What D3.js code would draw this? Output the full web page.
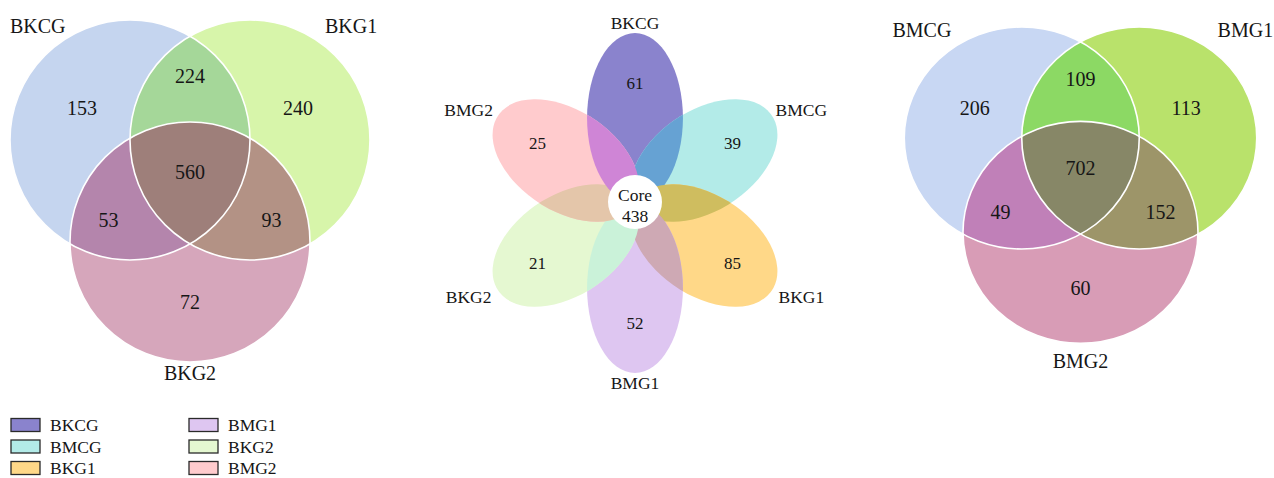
<!DOCTYPE html>
<html lang="en">
<head>
<meta charset="utf-8">
<title>Venn and flower diagrams</title>
<script src="https://d3js.org/d3.v7.min.js"></script>
<style>
  body { margin: 0; background: #fff; }
  text { font-family: "Liberation Serif", "Times New Roman", serif; fill: #161616; }
</style>
</head>
<body>
<script>
// ---- data ----
// venn region order: A only, B only, C only, A&B, A&C, B&C, A&B&C
var leftSets = ["BKCG", "BKG1", "BKG2"];
var leftCounts = [153, 240, 72, 224, 53, 93, 560];
var rightSets = ["BMCG", "BMG1", "BMG2"];
var rightCounts = [206, 113, 60, 109, 49, 152, 702];

var petalSets = ["BKCG", "BMCG", "BKG1", "BMG1", "BKG2", "BMG2"];
var petalCounts = [61, 39, 85, 52, 21, 25];
var coreLabel = "Core";
var coreCount = 438;

var legendCol1 = ["BKCG", "BMCG", "BKG1"];
var legendCol2 = ["BMG1", "BKG2", "BMG2"];

// ---- styles ----
var leftColors = ["#c5d5ef", "#d7f5aa", "#d6a6bb", "#a5d799", "#b485ac", "#b39285", "#9e7f7a"];
var rightColors = ["#c8d7f3", "#b9e26b", "#d89cb6", "#8cd964", "#c080b8", "#9d9569", "#878767"];
var petalColors = {BKCG: "#8a83cd", BMCG: "#b3ebe8", BKG1: "#ffd888", BMG1: "#dec6f1", BKG2: "#e5f8d1", BMG2: "#ffcbcd"};
// overlap of petal i with petal i+1
var petalOverlap = ["#66a2d3", "#cfbd5f", "#cea9b4", "#caf2d9", "#e4c6aa", "#cf85d6"];

var W = 1274, H = 478;
var svg = d3.select("body").append("svg").attr("width", W).attr("height", H);
var defs = svg.append("defs");

// unit layout of a 3-set venn (radius 1)
var unitCenters = [[-0.5, 0], [0.5, 0], [0, 0.85]];
var regionPos = [[-0.9, -0.27], [0.9, -0.27], [0, 1.35], [0, -0.53], [-0.68, 0.67], [0.68, 0.67], [0, 0.27]];

function venn(id, sets, counts, colors, cfg) {
  var x = d3.scaleLinear().domain([-1, 1]).range([cfg.cx - cfg.rx, cfg.cx + cfg.rx]);
  var y = d3.scaleLinear().domain([-1, 1]).range([cfg.cy - cfg.ry, cfg.cy + cfg.ry]);
  var g = svg.append("g");

  function ell(sel, i) {
    return sel.append("ellipse")
      .attr("cx", x(unitCenters[i][0])).attr("cy", y(unitCenters[i][1]))
      .attr("rx", cfg.rx).attr("ry", cfg.ry);
  }
  sets.forEach(function(s, i) {
    ell(defs.append("clipPath").attr("id", id + "c" + i), i);
  });

  // single sets
  sets.forEach(function(s, i) { ell(g, i).attr("fill", colors[i]); });
  // pairwise
  ell(g, 1).attr("fill", colors[3]).attr("clip-path", "url(#" + id + "c0)");
  ell(g, 2).attr("fill", colors[4]).attr("clip-path", "url(#" + id + "c0)");
  ell(g, 2).attr("fill", colors[5]).attr("clip-path", "url(#" + id + "c1)");
  // triple
  var gt = g.append("g").attr("clip-path", "url(#" + id + "c1)");
  ell(gt, 2).attr("fill", colors[6]).attr("clip-path", "url(#" + id + "c0)");
  // outlines
  sets.forEach(function(s, i) {
    ell(g, i).attr("fill", "none").attr("stroke", "#fff").attr("stroke-width", 1.6);
  });

  g.selectAll("text.cnt").data(counts).enter().append("text")
    .attr("class", "cnt")
    .attr("x", function(d, i) { return x(regionPos[i][0]); })
    .attr("y", function(d, i) { return y(regionPos[i][1]); })
    .attr("dy", "0.35em")
    .attr("text-anchor", "middle")
    .style("font-size", "20px")
    .text(function(d) { return d; });

  var lab = [
    {t: sets[0], u: cfg.lu[0], v: cfg.lv, a: "start"},
    {t: sets[1], u: cfg.lu[1], v: cfg.lv, a: "end"},
    {t: sets[2], u: 0, v: cfg.bv, a: "middle"}
  ];
  g.selectAll("text.lab").data(lab).enter().append("text")
    .attr("class", "lab")
    .attr("x", function(d) { return x(d.u); })
    .attr("y", function(d) { return y(d.v); })
    .attr("text-anchor", function(d) { return d.a; })
    .style("font-size", "20px")
    .text(function(d) { return d.t; });
}

venn("L", leftSets, leftCounts, leftColors, {cx: 190, cy: 140, rx: 120, ry: 120, lu: [-1.5, 1.56], lv: -0.89, bv: 2.0});
venn("R", rightSets, rightCounts, rightColors, {cx: 1080.5, cy: 138, rx: 117.5, ry: 111, lu: [-1.6, 1.64], lv: -0.91, bv: 2.07});

// ---- flower ----
var fcx = 635, fcy = 203, sx = 0.94;
var angle = d3.scaleLinear().domain([0, petalSets.length]).range([-90, 270]);
var rad = d3.scaleLinear().domain([0, 1]).range([0, 170]);

var fg = svg.append("g").attr("transform", "translate(" + fcx + "," + fcy + ") scale(" + sx + ",1)");

function petal(sel, i) {
  return sel.append("ellipse")
    .attr("transform", "rotate(" + angle(i) + ")")
    .attr("cx", rad(0.5)).attr("cy", 0)
    .attr("rx", rad(0.5)).attr("ry", 51);
}
petalSets.forEach(function(s, i) {
  petal(defs.append("clipPath").attr("id", "p" + i), i);
});
petalSets.forEach(function(s, i) {
  petal(fg, i).attr("fill", petalColors[s]);
});
// overlaps: petal i+1 clipped to petal i (clip on a wrapper so rotation isn't applied twice)
petalSets.forEach(function(s, i) {
  var j = (i + 1) % petalSets.length;
  var cg = fg.append("g").attr("clip-path", "url(#p" + i + ")");
  petal(cg, j).attr("fill", petalOverlap[i]);
});

svg.append("circle").attr("cx", fcx).attr("cy", fcy - 1).attr("r", 27).attr("fill", "#fff");

function toRad(i) { return angle(i) * Math.PI / 180; }

svg.selectAll("text.pcnt").data(petalCounts).enter().append("text")
  .attr("class", "pcnt")
  .attr("x", function(d, i) { return fcx + sx * rad(0.705) * Math.cos(toRad(i)); })
  .attr("y", function(d, i) { return fcy + rad(0.705) * Math.sin(toRad(i)); })
  .attr("dy", "0.35em")
  .attr("text-anchor", "middle")
  .style("font-size", "17px")
  .text(function(d) { return d; });

svg.selectAll("text.plab").data(petalSets).enter().append("text")
  .attr("class", "plab")
  .attr("x", function(d, i) {
    var c = Math.cos(toRad(i));
    return fcx + (180 + 14 * Math.abs(c)) * c;
  })
  .attr("y", function(d, i) {
    var c = Math.cos(toRad(i));
    return fcy + (180 + 8 * Math.abs(c)) * Math.sin(toRad(i));
  })
  .attr("dy", "0.35em")
  .attr("text-anchor", "middle")
  .style("font-size", "17.5px")
  .text(function(d) { return d; });

svg.append("text").attr("x", fcx).attr("y", 201).attr("text-anchor", "middle")
  .style("font-size", "17.5px").text(coreLabel);
svg.append("text").attr("x", fcx).attr("y", 222).attr("text-anchor", "middle")
  .style("font-size", "17.5px").text(coreCount);

// ---- legend ----
var rowY = d3.scalePoint().domain([0, 1, 2]).range([425, 468]);
[[legendCol1, 11], [legendCol2, 189]].forEach(function(col) {
  var lg = svg.append("g");
  lg.selectAll("rect").data(col[0]).enter().append("rect")
    .attr("x", col[1]).attr("y", function(d, i) { return rowY(i) - 6.5; })
    .attr("width", 29).attr("height", 13)
    .attr("fill", function(d) { return petalColors[d]; })
    .attr("stroke", "#2a2a2a").attr("stroke-width", 1.3);
  lg.selectAll("text").data(col[0]).enter().append("text")
    .attr("x", col[1] + 39).attr("y", function(d, i) { return rowY(i); })
    .attr("dy", "0.35em")
    .style("font-size", "17.5px")
    .text(function(d) { return d; });
});
</script>
</body>
</html>
